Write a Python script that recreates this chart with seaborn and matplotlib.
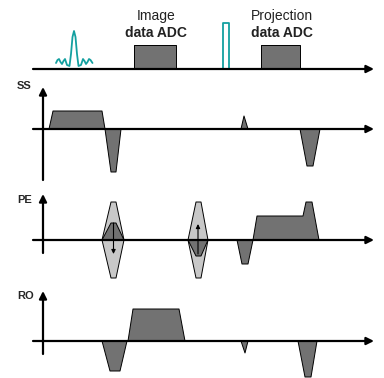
import matplotlib
matplotlib.use("Agg")
import matplotlib.pyplot as plt
import seaborn as sns
import pandas as pd

sns.set_style("white")
plt.rcParams['font.family'] = ['Liberation Sans', 'DejaVu Sans']

# ---- data (time in px, amplitude in px above each row's baseline) ----
rf_t = [56, 57.5, 59, 60.5, 62, 63.5, 65, 67, 69.5, 71, 72.5, 74, 75.5, 77, 78.5, 81, 83, 84.5, 86, 87.5, 89, 90.5, 92.5]
rf_a = [6, 9, 10, 7, 5, 8, 10, 4, 3, 15, 32, 38, 32, 15, 3, 4, 10, 8, 5, 7, 10, 9, 6]
refoc_t = [223, 223, 229, 229]
refoc_a = [0, 46, 46, 0]
adc_image_t = [134, 134, 176, 176]
adc_image_a = [0, 24, 24, 0]
adc_proj_t = [261, 261, 300, 300]
adc_proj_a = [0, 24, 24, 0]

ss_shapes = [
    ([49, 53, 102, 105], [0, 18, 18, 0]),
    ([105, 111, 116, 121], [0, -43, -43, 0]),
    ([241, 244, 248], [0, 13, 0]),
    ([300, 307, 313, 320], [0, -37, -37, 0]),
]
pe_light = [
    ([102, 111, 116, 124, 116, 111], [0, 38, 38, 0, -38, -38]),
    ([188, 196, 201, 208, 201, 196], [0, 38, 38, 0, -38, -38]),
]
pe_dark = [
    ([102, 111, 116, 124], [0, 17, 17, 0]),
    ([188, 196, 201, 208], [0, -16, -16, 0]),
    ([237, 242, 248, 253], [0, -24, -24, 0]),
    ([253, 257, 303, 306, 312, 319], [0, 24, 24, 38, 38, 0]),
]
pe_arrows = [(113.5, 17, -14), (198, -14, 16)]
ro_shapes = [
    ([102, 110, 120, 127], [0, -30, -30, 0]),
    ([128, 133, 179, 185], [0, 32, 32, 0]),
    ([241, 245, 248], [0, -12, 0]),
    ([298, 305, 311, 317], [0, -36, -36, 0]),
]
row_labels = ["SS", "PE", "RO"]

# ---- layout ----
RF_Y, SS_Y, PE_Y, RO_Y = 69, 129, 240, 341
TEAL = '#14a0a0'
DARK = '#727272'
LIGHT = '#c8c8c8'

fig = plt.figure(figsize=(3.84, 3.78), dpi=100)
ax = fig.add_axes([0, 0, 1, 1])
ax.set_xlim(0, 384)
ax.set_ylim(378, 0)
ax.axis('off')


def shape(t, a, base, fc, z=2, ec='black', lw=0.7):
    y = [base - v for v in a]
    ax.fill(t, y, facecolor=fc, edgecolor='none', zorder=z)
    df = pd.DataFrame({'t': list(t) + [t[0]], 'y': y + [y[0]]})
    sns.lineplot(data=df, x='t', y='y', sort=False, estimator=None,
                 color=ec, lw=lw, ax=ax, zorder=z + 0.1)


def axis_arrow(x0, y0, x1, y1, lw=1.6, ms=11):
    ax.annotate('', xy=(x1, y1), xytext=(x0, y0),
                arrowprops=dict(arrowstyle='-|>', lw=lw, color='black',
                                mutation_scale=ms, shrinkA=0, shrinkB=0),
                zorder=5)

# RF row
axis_arrow(33, RF_Y, 374, RF_Y)
sns.lineplot(x=rf_t, y=[RF_Y - v for v in rf_a], sort=False, estimator=None,
             color=TEAL, lw=1.3, ax=ax, zorder=3)
sns.lineplot(x=refoc_t, y=[RF_Y - v for v in refoc_a], sort=False, estimator=None,
             color=TEAL, lw=1.3, ax=ax, zorder=3)
shape(adc_image_t, adc_image_a, RF_Y, DARK)
shape(adc_proj_t, adc_proj_a, RF_Y, DARK)
ax.text(156, 16, "Image", ha='center', va='center', fontsize=10, color='#222222')
ax.text(156, 33, "data ADC", ha='center', va='center', fontsize=10, fontweight='bold', color='#222222')
ax.text(282, 16, "Projection", ha='center', va='center', fontsize=10, color='#222222')
ax.text(282, 33, "data ADC", ha='center', va='center', fontsize=10, fontweight='bold', color='#222222')

# SS row
for t, a in ss_shapes:
    shape(t, a, SS_Y, DARK)
axis_arrow(33, SS_Y, 374, SS_Y)
axis_arrow(43, 180, 43, 87)

# PE row
for t, a in pe_light:
    shape(t, a, PE_Y, LIGHT)
for t, a in pe_dark:
    shape(t, a, PE_Y, DARK, z=2.5)
axis_arrow(33, PE_Y, 374, PE_Y)
axis_arrow(43, 253, 43, 194)
for x, a0, a1 in pe_arrows:
    ax.annotate('', xy=(x, PE_Y - a1), xytext=(x, PE_Y - a0),
                arrowprops=dict(arrowstyle='-|>', lw=0.8, color='black',
                                mutation_scale=6, shrinkA=0, shrinkB=0),
                zorder=6)

# RO row
for t, a in ro_shapes:
    shape(t, a, RO_Y, DARK)
axis_arrow(33, RO_Y, 374, RO_Y)
axis_arrow(43, 354, 43, 291)

for lab, y in zip(row_labels, [86, 200, 296]):
    ax.text(17, y, lab, ha='left', va='center', fontsize=8, fontweight='bold')

fig.savefig("out.png", dpi=100)
